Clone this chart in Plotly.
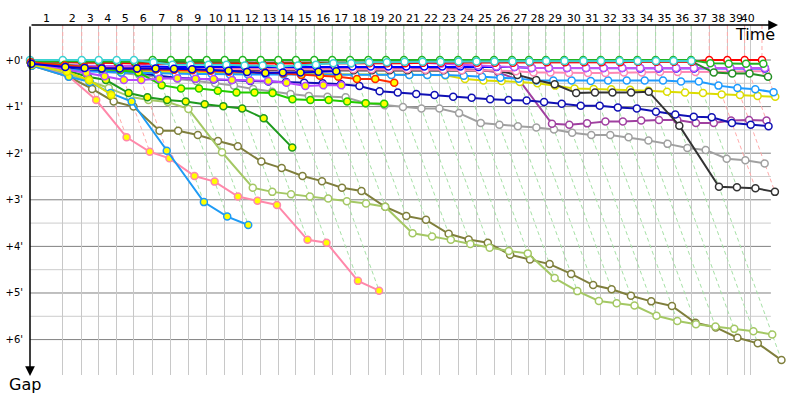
import plotly.graph_objects as go

# leader's running time (minutes) at the end of each lap, index 0 = start
leader_time = [0.00, 1.95, 3.08, 4.09, 5.16, 6.19, 7.30, 8.38, 9.45, 10.52,
               11.59, 12.66, 13.73, 14.78, 15.83, 16.92, 17.99, 19.05, 20.14, 21.19,
               22.26, 23.33, 24.40, 25.48, 26.55, 27.62, 28.69, 29.70, 30.71, 31.80,
               32.93, 33.97, 35.08, 36.15, 37.24, 38.29, 39.35, 40.43, 41.51, 42.54,
               43.57]
race_end = 42.90
lap_numbers = list(range(1, 41))
gap_ticks = [0, 1, 2, 3, 4, 5, 6]
gap_labels = ["+0'", "+1'", "+2'", "+3'", "+4'", "+5'", "+6'"]
half_ticks = [0.5, 1.5, 2.5, 3.5, 4.5, 5.5]

# gap to the leader (minutes) after each lap the car completed, index 0 = start
gap_cyan = [0.00, 0.00, 0.00, 0.00, 0.00, 0.00, 0.05, 0.10, 0.10, 0.10, 0.10, 0.12, 0.12,
            0.14, 0.12, 0.10, 0.07, 0.07, 0.05, 0.05, 0.04, 0.04, 0.04, 0.03, 0.03, 0.03,
            0.03, 0.03, 0.02, 0.02, 0.02, 0.02, 0.02, 0.02, 0.02, 0.02, 0.02]
gap_green = [0.02, 0.03, 0.03, 0.03, 0.04, 0.04, 0.00, 0.00, 0.00, 0.00, 0.00, 0.00, 0.00,
             0.00, 0.00, 0.00, 0.00, 0.00, 0.00, 0.00, 0.00, 0.00, 0.00, 0.00, 0.00, 0.00,
             0.00, 0.00, 0.00, 0.00, 0.00, 0.00, 0.00, 0.00, 0.00, 0.00, 0.00, 0.07, 0.08,
             0.08, 0.08]
gap_red = [0.01, 0.05, 0.06, 0.06, 0.07, 0.07, 0.08, 0.08, 0.08, 0.08, 0.08, 0.08, 0.08,
           0.07, 0.07, 0.07, 0.07, 0.07, 0.07, 0.07, 0.07, 0.06, 0.06, 0.06, 0.06, 0.06,
           0.06, 0.05, 0.05, 0.05, 0.05, 0.05, 0.05, 0.04, 0.04, 0.04, 0.04, 0.00, 0.00,
           0.00, 0.00]
gap_dkgreen = [0.03, 0.04, 0.05, 0.05, 0.05, 0.05, 0.04, 0.04, 0.05, 0.05, 0.05, 0.05, 0.06,
               0.06, 0.06, 0.06, 0.05, 0.05, 0.05, 0.05, 0.05, 0.05, 0.04, 0.04, 0.04, 0.04,
               0.04, 0.04, 0.04, 0.04, 0.04, 0.03, 0.03, 0.03, 0.03, 0.03, 0.03, 0.27, 0.29,
               0.29, 0.36]
gap_violet = [0.05, 0.10, 0.12, 0.13, 0.13, 0.13, 0.05, 0.05, 0.05, 0.05, 0.05, 0.05, 0.05,
              0.05, 0.05, 0.05, 0.05, 0.05, 0.05, 0.05, 0.05, 0.06, 0.08, 0.10, 0.12, 0.14,
              0.15, 0.17, 0.17, 0.17, 0.17, 0.17, 0.17, 0.17, 0.17, 0.17, 0.17, 0.17, 0.17,
              0.17, 0.17]
gap_blue = [0.06, 0.12, 0.13, 0.13, 0.14, 0.14, 0.14, 0.15, 0.15, 0.15, 0.15, 0.14, 0.14,
            0.14, 0.14, 0.14, 0.14, 0.14, 0.14, 0.14, 0.14, 0.14, 0.14, 0.14, 0.15, 0.15,
            0.15, 0.17, 0.17, 0.17, 0.17, 0.17, 0.17, 0.18, 0.18, 0.18, 0.18, 0.18, 0.18,
            0.18, 0.18]
gap_pink = [0.08, 0.15, 0.15, 0.16, 0.16, 0.17, 0.18, 0.19, 0.19, 0.20, 0.20, 0.20, 0.20,
            0.20, 0.20, 0.20, 0.20, 0.20, 0.20, 0.20, 0.20, 0.21, 0.21, 0.22, 0.22, 0.23,
            0.24, 0.27, 0.27, 0.28, 0.28, 0.28, 0.27, 0.27, 0.26, 0.26, 0.26, 0.25, 0.25,
            0.24, 0.24]
gap_black = [0.10, 0.15, 0.18, 0.19, 0.20, 0.20, 0.20, 0.20, 0.21, 0.21, 0.22, 0.22, 0.22,
             0.22, 0.22, 0.22, 0.22, 0.22, 0.22, 0.22, 0.22, 0.22, 0.22, 0.22, 0.22, 0.23,
             0.32, 0.43, 0.52, 0.71, 0.70, 0.70, 0.70, 0.68, 1.41, 2.72, 2.73, 2.75, 2.83]
gap_sky = [0.12, 0.20, 0.24, 0.26, 0.27, 0.28, 0.29, 0.30, 0.30, 0.30, 0.31, 0.31, 0.31,
           0.31, 0.32, 0.32, 0.32, 0.32, 0.32, 0.32, 0.32, 0.32, 0.32, 0.34, 0.36, 0.38,
           0.40, 0.44, 0.44, 0.44, 0.45, 0.44, 0.44, 0.44, 0.44, 0.46, 0.46, 0.55, 0.60,
           0.63, 0.69]
gap_yellow = [0.05, 0.12, 0.18, 0.20, 0.22, 0.24, 0.25, 0.26, 0.27, 0.28, 0.28, 0.29, 0.29,
              0.30, 0.30, 0.30, 0.31, 0.31, 0.31, 0.31, 0.32, 0.32, 0.33, 0.41, 0.44, 0.45,
              0.47, 0.50, 0.55, 0.61, 0.62, 0.63, 0.64, 0.66, 0.68, 0.70, 0.71, 0.74, 0.75,
              0.77, 0.79]
gap_navy = [0.10, 0.18, 0.22, 0.24, 0.25, 0.27, 0.34, 0.38, 0.40, 0.42, 0.43, 0.45, 0.46,
            0.47, 0.49, 0.50, 0.52, 0.56, 0.67, 0.70, 0.73, 0.75, 0.79, 0.81, 0.84, 0.86,
            0.87, 0.90, 0.94, 0.98, 0.98, 1.02, 1.04, 1.11, 1.17, 1.22, 1.23, 1.35, 1.39,
            1.42]
gap_purple = [0.07, 0.13, 0.15, 0.16, 0.17, 0.17, 0.18, 0.18, 0.18, 0.18, 0.18, 0.18, 0.18,
              0.18, 0.18, 0.18, 0.18, 0.18, 0.18, 0.18, 0.18, 0.19, 0.19, 0.20, 0.21, 0.27,
              0.43, 1.37, 1.39, 1.36, 1.32, 1.32, 1.30, 1.29, 1.29, 1.35, 1.35, 1.30, 1.29,
              1.30]
gap_gray = [0.10, 0.15, 0.20, 0.25, 0.28, 0.32, 0.35, 0.40, 0.45, 0.50, 0.55, 0.62, 0.68,
            0.73, 0.77, 0.79, 0.80, 0.93, 0.97, 1.01, 1.04, 1.04, 1.14, 1.35, 1.39, 1.42,
            1.45, 1.49, 1.56, 1.61, 1.61, 1.66, 1.73, 1.80, 1.89, 1.93, 2.12, 2.15, 2.22]
gap_olive = [0.12, 0.36, 0.62, 0.89, 1.00, 1.52, 1.52, 1.61, 1.74, 1.85, 2.18, 2.32, 2.49,
             2.60, 2.74, 2.81, 3.15, 3.35, 3.43, 3.73, 3.85, 3.92, 4.18, 4.28, 4.38, 4.59,
             4.83, 4.92, 5.06, 5.18, 5.28, 5.64, 5.74, 5.96, 6.08, 6.44]
gap_lolive = [0.10, 0.30, 0.45, 0.60, 0.79, 0.86, 0.90, 1.05, 1.98, 2.74, 2.83, 2.88, 2.93,
              2.97, 3.03, 3.08, 3.15, 3.72, 3.79, 3.86, 3.95, 4.03, 4.10, 4.15, 4.68, 4.96,
              5.17, 5.22, 5.27, 5.49, 5.60, 5.67, 5.72, 5.77, 5.82, 5.89]
# retired cars
gap_pink_r = [0.10, 0.35, 0.86, 1.66, 1.97, 2.11, 2.49, 2.61, 2.93, 3.02, 3.11, 3.86, 3.92,
              4.74, 4.95]
gap_sky_r = [0.12, 0.36, 0.47, 0.71, 0.89, 1.95, 3.05, 3.36, 3.54]
gap_green_r = [0.08, 0.22, 0.36, 0.43, 0.71, 0.80, 0.86, 0.89, 0.95, 0.99, 1.04, 1.25, 1.88]
gap_lime_r = [0.05, 0.10, 0.15, 0.20, 0.22, 0.27, 0.54, 0.61, 0.61, 0.66, 0.70, 0.70, 0.71,
              0.84, 0.86, 0.86, 0.89, 0.93, 0.94]
gap_red_r = [0.05, 0.12, 0.15, 0.17, 0.18, 0.19, 0.20, 0.21, 0.22, 0.23, 0.25, 0.26, 0.27,
             0.29, 0.32, 0.34, 0.36, 0.41, 0.41, 0.49]
gap_violet_r = [0.08, 0.20, 0.28, 0.35, 0.43, 0.43, 0.40, 0.39, 0.40, 0.41, 0.43, 0.44, 0.45,
                0.49, 0.56, 0.54, 0.54]
gap_yellow_r = [0.10, 0.25, 0.43, 0.75]
gap_blue_r = [0.08, 0.15, 0.17, 0.18, 0.18, 0.18, 0.18, 0.19, 0.20, 0.21, 0.23, 0.26, 0.28,
              0.27, 0.27, 0.25, 0.24]

cars = [
    ("Olive", "#7f7f3c", gap_olive, False),
    ("Light olive", "#a4c864", gap_lolive, False),
    ("Gray", "#a0a0a0", gap_gray, False),
    ("Purple", "#a040a0", gap_purple, False),
    ("Navy", "#1010b4", gap_navy, False),
    ("Yellow", "#dcdc00", gap_yellow, False),
    ("Sky", "#1e9bff", gap_sky, False),
    ("Black", "#333333", gap_black, False),
    ("Pink", "#ff88b4", gap_pink, False),
    ("Blue", "#0000ff", gap_blue, False),
    ("Violet", "#c055f5", gap_violet, False),
    ("Dark green", "#259025", gap_dkgreen, False),
    ("Red", "#ff0000", gap_red, False),
    ("Green", "#22b422", gap_green, False),
    ("Cyan", "#3cd2d2", gap_cyan, False),
    ("Pink R", "#ff88aa", gap_pink_r, True),
    ("Sky R", "#1e9bf5", gap_sky_r, True),
    ("Green R", "#1e9a1e", gap_green_r, True),
    ("Lime R", "#22cc00", gap_lime_r, True),
    ("Red R", "#ff2a00", gap_red_r, True),
    ("Violet R", "#b848ff", gap_violet_r, True),
    ("Yellow R", "#e0e000", gap_yellow_r, True),
    ("Blue R", "#0000dc", gap_blue_r, True),
]

y_top = -0.751
y_bottom = 6.76
x_grid_end = 44.1
px_per_min = 16.8

fig = go.Figure()

# lap lines: where every car crossed the line on the same lap
for k in lap_numbers:
    gmax = max(g[k] for _, _, g, _ in cars if len(g) > k)
    col = "#ffaaaa" if k <= 5 or k >= 37 else "#a6e0a6"
    fig.add_trace(go.Scatter(
        x=[leader_time[k], leader_time[k], leader_time[k] + gmax],
        y=[y_top, 0, gmax],
        mode="lines",
        line=dict(color=col, width=1, dash="4px,3px"),
        hoverinfo="skip",
        showlegend=False
    ))

for name, color, gaps, retired in cars:
    fig.add_trace(go.Scatter(
        x=[leader_time[i] + g for i, g in enumerate(gaps)],
        y=gaps,
        mode="lines+markers",
        name=name,
        line=dict(color=color, width=2),
        marker=dict(size=7, color="#ffff00" if retired else "white",
                    line=dict(color=color, width=1.5)),
        cliponaxis=False,
        hovertemplate="%{y:.2f}'<extra>" + name + "</extra>"
    ))

# horizontal grid only up to the end of the time axis
for v in half_ticks:
    fig.add_shape(type="line", xref="x", yref="y", x0=0, x1=x_grid_end, y0=v, y1=v,
                  line=dict(color="#cccccc", width=1), layer="below")
for v in gap_ticks:
    fig.add_shape(type="line", xref="x", yref="y", x0=0, x1=x_grid_end, y0=v, y1=v,
                  line=dict(color="#808080", width=1), layer="below")

lap_mid = [(leader_time[k - 1] + min(leader_time[k], race_end)) / 2 for k in lap_numbers]
plot_w = 769

fig.update_layout(
    width=800,
    height=400,
    margin=dict(l=30, r=1, t=25, b=25),
    plot_bgcolor="white",
    paper_bgcolor="white",
    showlegend=False,
    font=dict(family="DejaVu Sans", size=11, color="black"),
    xaxis=dict(
        range=[0, plot_w / px_per_min],
        side="top",
        tickvals=lap_mid,
        ticktext=[str(k) for k in lap_numbers],
        tickangle=0,
        automargin=False,
        showgrid=False,
        zeroline=False,
        showline=False,
        ticks="",
        minor=dict(tickvals=leader_time[1:40] + [race_end], showgrid=True,
                   gridcolor="#c8c8c8", gridwidth=1, ticks="")
    ),
    yaxis=dict(
        range=[y_bottom, y_top],
        tickvals=gap_ticks,
        ticktext=gap_labels,
        tickfont=dict(size=10),
        automargin=False,
        showgrid=False,
        zeroline=False,
        showline=False,
        ticks="outside",
        ticklen=4,
        tickcolor="rgba(0,0,0,0)"
    ),
    annotations=[
        dict(xref="paper", yref="paper", x=748 / plot_w, y=1, ax=-748, ay=0,
             axref="pixel", ayref="pixel", text="", showarrow=True,
             arrowhead=2, arrowsize=1.3, arrowwidth=1.5, arrowcolor="black"),
        dict(xref="paper", yref="paper", x=0, y=1 - 351 / 350, ax=0, ay=-351,
             axref="pixel", ayref="pixel", text="", showarrow=True,
             arrowhead=2, arrowsize=1.3, arrowwidth=1.5, arrowcolor="black"),
        dict(xref="paper", yref="paper", x=747 / plot_w, y=1 - 9.5 / 350,
             xanchor="right", yanchor="middle", text="Time", showarrow=False,
             font=dict(size=16)),
        dict(xref="paper", yref="paper", x=-5 / plot_w, y=1 - 360 / 350,
             xanchor="center", yanchor="middle", text="Gap", showarrow=False,
             font=dict(size=16)),
    ]
)

# the page's default body margin would push the 800x400 figure off the window
fig.write_html("out.html", config={"displayModeBar": False},
               post_script="document.body.style.margin='0';")
